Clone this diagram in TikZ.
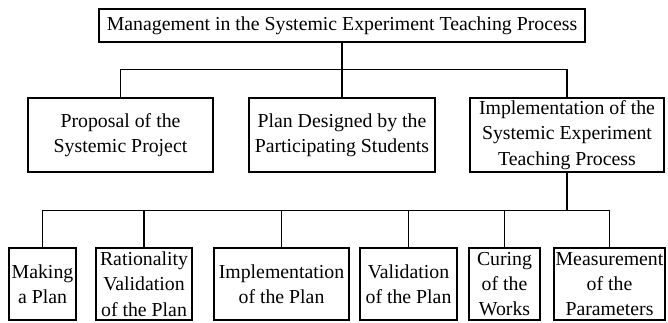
\documentclass[tikz,border=0pt]{standalone}
\usepackage{fontspec}
\setmainfont{Liberation Serif}
\begin{document}
\begin{tikzpicture}[x=1pt,y=-1pt,
  box/.style={draw,line width=1.4pt,inner sep=0pt,align=center,
    font=\fontsize{19.8}{25.3}\selectfont},
  link/.style={line width=1.4pt}]
\useasboundingbox (0,0) rectangle (668,322);
\node[box,minimum width=486,minimum height=33] (top) at (342,25.5) {Management in the Systemic Experiment Teaching Process};
\node[box,minimum width=185,minimum height=74] (p1) at (120.5,135) {Proposal of the\\Systemic Project};
\node[box,minimum width=186,minimum height=74] (p2) at (342,135) {Plan Designed by the\\Participating Students};
\node[box,minimum width=194,minimum height=74] (p3) at (567,135) {Implementation of the\\Systemic Experiment\\Teaching Process};
\node[box,minimum width=67,minimum height=72] (a) at (42.5,284) {Making\\a Plan};
\node[box,minimum width=96,minimum height=72] (b) at (144,284) {Rationality\\Validation\\of the Plan};
\node[box,minimum width=135,minimum height=72] (c) at (281.5,284) {Implementation\\of the Plan};
\node[box,minimum width=97,minimum height=72] (d) at (408.5,284) {Validation\\of the Plan};
\node[box,minimum width=71,minimum height=72] (e) at (504.5,284) {Curing\\of the\\Works};
\node[box,minimum width=111,minimum height=72] (f) at (609.5,284) {Measurement\\of the\\Parameters};
\foreach \n in {p1,p2,p3}
  \draw[link] (top.south) -- ++(0,26.5) -| (\n.north);
\foreach \n in {a,b,c,d,e,f}
  \draw[link] (p3.south) -- ++(0,37.5) -| (\n.north);
\end{tikzpicture}
\end{document}
